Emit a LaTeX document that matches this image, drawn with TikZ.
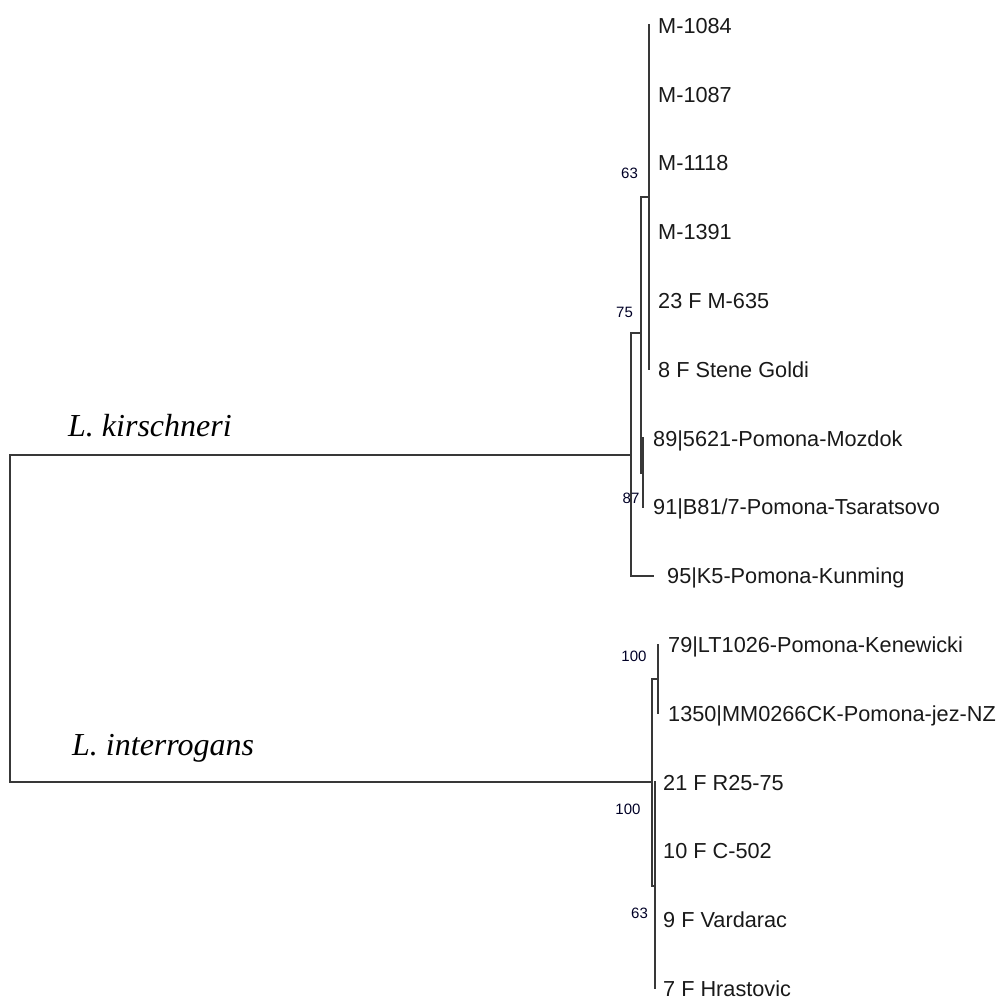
\documentclass[tikz,border=0pt]{standalone}
\usepackage{fontspec}
\setmainfont{Liberation Sans}
\newfontfamily\tmsfont{Liberation Serif}
\begin{document}
\begin{tikzpicture}[x=1pt,y=-1pt,
  br/.style={draw=black!78,line width=1.3pt,line cap=rect},
  leaf/.style={anchor=base west,inner sep=0pt,font=\fontsize{21.7}{22}\selectfont,text=black!90},
  boot/.style={anchor=center,inner sep=0pt,font=\fontsize{15}{16}\selectfont,text=black!85!blue},
  sp/.style={anchor=base west,inner sep=0pt,font=\tmsfont\itshape\fontsize{32}{33}\selectfont}]
\useasboundingbox (0,0) rectangle (999,1001);
% root
\coordinate (rt) at (10,455);
\coordinate (rb) at (10,782);
% kirschneri clade
\coordinate (K) at (631,455);
\coordinate (Kt) at (631,333);
\coordinate (Kb) at (631,576);
\coordinate (A75) at (641,333);
\coordinate (A75t) at (641,197);
\coordinate (A75b) at (641,473);
\coordinate (A63) at (649,197);
\coordinate (A63t) at (649,25);
\coordinate (A63b) at (649,369);
\coordinate (A87) at (643,473);
\coordinate (A87t) at (643,438);
\coordinate (A87b) at (643,507);
\coordinate (L95) at (653,576);
% interrogans clade
\coordinate (I) at (652,782);
\coordinate (It) at (652,679);
\coordinate (Ib) at (652,886);
\coordinate (B100a) at (658,679);
\coordinate (B100at) at (658,645);
\coordinate (B100ab) at (658,713);
\coordinate (B100b) at (655,886);
\coordinate (B100bt) at (655,782);
\coordinate (B100bb) at (655,988);

% branches
\draw[br] (rt) -- (rb);
\draw[br] (rt) -- (K);
\draw[br] (rb) -- (I);
\draw[br] (Kt) -- (Kb);
\draw[br] (Kt) -- (A75);
\draw[br] (A75t) -- (A75b);
\draw[br] (A75t) -- (A63);
\draw[br] (A63t) -- (A63b);
\draw[br] (A75b) -- (A87);
\draw[br] (A87t) -- (A87b);
\draw[br] (Kb) -- (L95);
\draw[br] (It) -- (Ib);
\draw[br] (It) -- (B100a);
\draw[br] (B100at) -- (B100ab);
\draw[br] (Ib) -- (B100b);
\draw[br] (B100bt) -- (B100bb);

% leaf labels
\node[leaf] (l1) at (658,33.3) {M-1084};
\node[leaf] (l2) at (658,102.1) {M-1087};
\node[leaf] (l3) at (658,170.9) {M-1118};
\node[leaf] (l4) at (658,239.7) {M-1391};
\node[leaf] (l5) at (658,308.5) {23 F M-635};
\node[leaf] (l6) at (658,377.3) {8 F Stene Goldi};
\node[leaf] (l7) at (653,446.1) {89|5621-Pomona-Mozdok};
\node[leaf] (l8) at (653,514.9) {91|B81/7-Pomona-Tsaratsovo};
\node[leaf] (l9) at (667,583.7) {95|K5-Pomona-Kunming};
\node[leaf] (l10) at (668,652.5) {79|LT1026-Pomona-Kenewicki};
\node[leaf] (l11) at (668,721.3) {1350|MM0266CK-Pomona-jez-NZ};
\node[leaf] (l12) at (663,790.1) {21 F R25-75};
\node[leaf] (l13) at (663,858.9) {10 F C-502};
\node[leaf] (l14) at (663,927.7) {9 F Vardarac};
\node[leaf] (l15) at (663,996.5) {7 F Hrastovic};

% bootstrap values
\node[boot] (b63a) at (629.5,173) {63};
\node[boot] (b75) at (624.5,312) {75};
\node[boot] (b87) at (631,498) {87};
\node[boot] (b100a) at (634,656) {100};
\node[boot] (b100b) at (628,809) {100};
\node[boot] (b63b) at (639.5,913) {63};

% species labels
\node[sp] (kir) at (68,436) {L. kirschneri};
\node[sp] (int) at (72,755) {L. interrogans};
\end{tikzpicture}
\end{document}
